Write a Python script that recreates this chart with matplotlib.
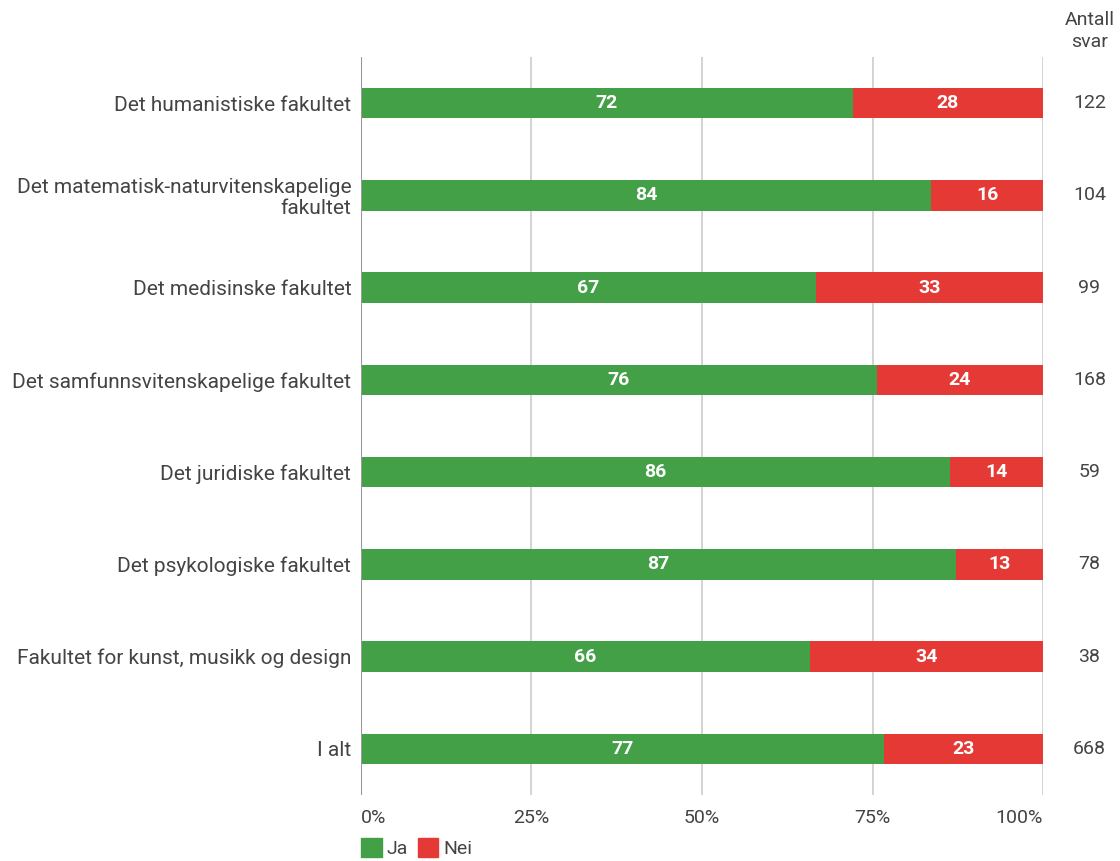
import matplotlib.pyplot as plt
from matplotlib.patches import Patch

plt.rcParams['font.family'] = ['Roboto', 'DejaVu Sans']

categories = ["Det humanistiske fakultet",
              "Det matematisk-naturvitenskapelige\nfakultet",
              "Det medisinske fakultet",
              "Det samfunnsvitenskapelige fakultet",
              "Det juridiske fakultet",
              "Det psykologiske fakultet",
              "Fakultet for kunst, musikk og design",
              "I alt"]
ja = [72.1, 83.6, 66.7, 75.6, 86.4, 87.2, 65.8, 76.7]
nei = [27.9, 16.4, 33.3, 24.4, 13.6, 12.8, 34.2, 23.3]
antall = [122, 104, 99, 168, 59, 78, 38, 668]
ticks = [0, 25, 50, 75, 100]
tick_labels = ["0%", "25%", "50%", "75%", "100%"]

green = '#43a047'
red = '#e53935'
txt = '#444444'

fig = plt.figure(figsize=(11.2, 8.61), dpi=100)
ax = fig.add_axes([0.3223, 0.0767, 0.609, 0.857])

y = list(range(len(categories)))
ax.barh(y, ja, height=0.33, color=green, zorder=3)
ax.barh(y, nei, left=ja, height=0.33, color=red, zorder=3)

for i in y:
    ax.text(ja[i] / 2, i, str(round(ja[i])), ha='center', va='center',
            color='white', fontsize=14, fontweight='bold', zorder=4)
    ax.text(ja[i] + nei[i] / 2, i, str(round(nei[i])), ha='center', va='center',
            color='white', fontsize=14, fontweight='bold', zorder=4)
    ax.text(1.068, i, str(antall[i]), transform=ax.get_yaxis_transform(),
            ha='center', va='center', color=txt, fontsize=14)

ax.text(1.068, 1.035, "Antall\nsvar", transform=ax.transAxes, ha='center',
        va='center', color=txt, fontsize=14, linespacing=1.3)

ax.set_ylim(len(categories) - 0.5, -0.5)
ax.set_xlim(0, 100)
ax.set_yticks(y)
ax.set_yticklabels(categories, fontsize=15, color=txt, linespacing=1.1)
ax.set_xticks(ticks)
ax.set_xticklabels(tick_labels, fontsize=14, color=txt)
ax.tick_params(length=0, pad=10)
ax.tick_params(axis='y', pad=7)
xl = ax.get_xticklabels()
xl[0].set_ha('left')
xl[-1].set_ha('right')

for t in ticks[1:]:
    ax.axvline(t, color='#cccccc', lw=1.2, zorder=1)
ax.axvline(0, color='#999999', lw=1.5, zorder=5)
for s in ax.spines.values():
    s.set_visible(False)

handles = [Patch(color=green, label='Ja'), Patch(color=red, label='Nei')]
leg = fig.legend(handles=handles, loc='lower left', bbox_to_anchor=(0.307, -0.017),
                 ncol=2, frameon=False, fontsize=14, handlelength=1.05,
                 handleheight=1.05, handletextpad=0.25, columnspacing=0.5)
for t in leg.get_texts():
    t.set_color(txt)

fig.savefig('out.png', dpi=100, facecolor='white')
